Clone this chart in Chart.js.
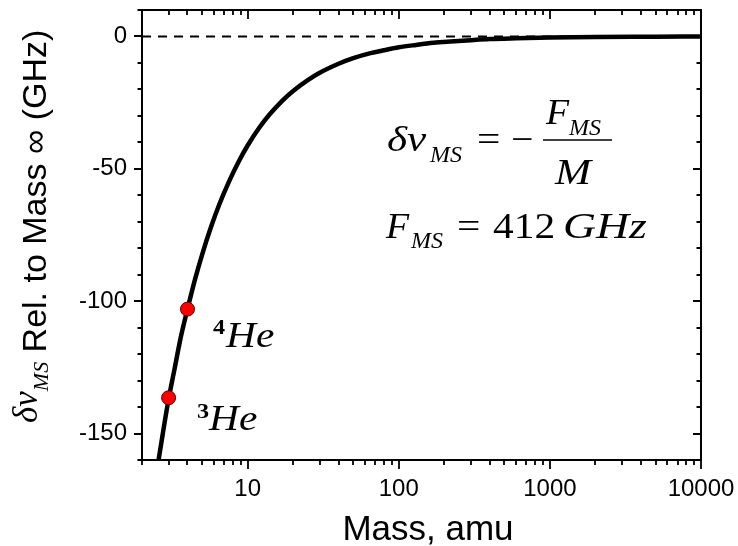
<!DOCTYPE html>
<html>
<head>
<meta charset="utf-8">
<script src="https://cdn.jsdelivr.net/npm/chart.js@4/dist/chart.umd.min.js"></script>
<style>
  html, body { margin: 0; background: #fff; }
  canvas { display: block; }
</style>
</head>
<body>
<canvas id="chart" width="738" height="546"></canvas>
<script>
// courbe : masse (amu) -> décalage (GHz)
const masses = [2.55, 2.8, 3, 3.3, 3.6, 4, 4.5, 5, 5.7, 6.5, 7.5, 8.7, 10, 12, 14, 17, 20, 25, 30, 40, 50, 65, 80, 100, 130, 170, 220, 300, 400, 600, 1000, 2000, 5000, 10000];
const shifts = [-161.5, -147, -137, -125, -114, -103, -91.5, -82.4, -72.3, -63.4, -55, -47.4, -41.2, -34.3, -29.4, -24.2, -20.6, -16.5, -13.7, -10.3, -8.2, -6.3, -5.2, -4.1, -3.2, -2.4, -1.9, -1.4, -1.0, -0.7, -0.4, -0.2, -0.1, 0];

// points 3He / 4He
const heMass = [3, 4];
const heShift = [-136.5, -103];

// ligne pointillée à zéro
const zeroX = [2, 10000];
const zeroY = [0, 0];

// axes
const xMin = 2, xMax = 10000;
const xDecades = [1, 10, 100, 1000];
const xLabels = [10, 100, 1000, 10000];
const yMin = -160, yMax = 10, yStep = 10;
const yLabels = [0, -50, -100, -150];

const SERIF = '"Liberation Serif", "Times New Roman", serif';
const SANS = '"Liberation Sans", Arial, sans-serif';

const xTickVals = [];
xDecades.forEach(d => { for (let k = 1; k <= 9; k++) { const v = d * k; if (v >= xMin) xTickVals.push(v); } });
xTickVals.push(xMax);

function txt(g, s, x, y, font, sx = 1) {
  g.save(); g.font = font; g.translate(x, y); g.scale(sx, 1); g.fillText(s, 0, 0); g.restore();
}

const deco = {
  id: 'deco',
  beforeDraw(c) {
    const g = c.ctx; g.save(); g.fillStyle = '#fff'; g.fillRect(0, 0, c.width, c.height); g.restore();
  },
  afterDraw(c) {
    const g = c.ctx, a = c.chartArea, sx = c.scales.x, sy = c.scales.y;
    g.save();
    g.strokeStyle = '#000'; g.fillStyle = '#000';
    // cadre
    g.lineWidth = 2;
    g.strokeRect(a.left, a.top, a.right - a.left, a.bottom - a.top);
    // graduations : dehors en bas/gauche, dedans en haut/droite
    g.lineWidth = 1.8;
    g.beginPath();
    xTickVals.forEach(v => {
      const p = Math.round(sx.getPixelForValue(v));
      const L = xLabels.includes(v) ? 9 : 5;
      g.moveTo(p, a.bottom); g.lineTo(p, a.bottom + L);
      g.moveTo(p, a.top); g.lineTo(p, a.top + L);
    });
    for (let v = yMin; v <= yMax; v += yStep) {
      const p = Math.round(sy.getPixelForValue(v));
      const L = yLabels.includes(v) ? 8 : 4.5;
      g.moveTo(a.left - L, p); g.lineTo(a.left, p);
      g.moveTo(a.right, p); g.lineTo(a.right - L, p);
    }
    g.stroke();

    // titre axe x
    g.textAlign = 'center'; g.textBaseline = 'alphabetic';
    g.font = `35px ${SANS}`;
    g.fillText('Mass, amu', 428, 540);

    // titre axe y (tourné)
    g.textAlign = 'left';
    g.save();
    g.translate(46, 423); g.rotate(-Math.PI / 2);
    let cx = 0;
    g.font = `italic 35px ${SERIF}`; g.fillText('δν', cx, -9); cx += g.measureText('δν').width;
    g.font = `italic 22px ${SERIF}`; g.fillText('MS', cx, 2); cx += g.measureText('MS').width;
    g.font = `34px ${SANS}`; g.fillText(' Rel. to Mass ∞ (GHz)', cx, 0);
    g.restore();

    // formule
    const k = 1.2;
    const big = `italic 36px ${SERIF}`, sub = `italic 24px ${SERIF}`, rom = `36px ${SERIF}`;
    txt(g, 'δν', 387, 151, big, k);
    txt(g, 'MS', 430, 162, sub, 1);
    txt(g, '=', 477, 151, rom, 1.15);
    txt(g, '−', 511, 151, rom, 1.1);
    g.lineWidth = 1.6;
    g.beginPath(); g.moveTo(543, 140); g.lineTo(612, 140); g.stroke();
    txt(g, 'F', 546, 124, big, 1.05);
    txt(g, 'MS', 569, 135, sub, 1);
    txt(g, 'M', 555, 184, big, k);

    txt(g, 'F', 386, 238, big, 1.05);
    txt(g, 'MS', 411, 248, sub, 1);
    txt(g, '=', 457, 238, rom, 1.15);
    txt(g, '412', 493, 238, rom, 1.15);
    txt(g, 'GHz', 563, 238, big, 1.27);

    // étiquettes des isotopes
    txt(g, '4', 213, 334, `bold 22px ${SERIF}`, 1.1);
    txt(g, 'He', 226, 347, big, 1.15);
    txt(g, '3', 197, 418, `bold 22px ${SERIF}`, 1.1);
    txt(g, 'He', 209, 430, big, 1.15);
    g.restore();
  }
};

new Chart(document.getElementById('chart'), {
  type: 'line',
  data: {
    datasets: [
      {
        data: heMass.map((m, i) => ({ x: m, y: heShift[i] })),
        showLine: false, pointRadius: 7, pointHoverRadius: 7,
        pointBackgroundColor: '#ff0000', pointBorderColor: '#5a0000', pointBorderWidth: 1,
        clip: false
      },
      {
        data: masses.map((m, i) => ({ x: m, y: shifts[i] })),
        borderColor: '#000', borderWidth: 4.5, pointRadius: 0,
        cubicInterpolationMode: 'monotone', clip: 0
      },
      {
        data: zeroX.map((m, i) => ({ x: m, y: zeroY[i] })),
        borderColor: '#000', borderWidth: 2, borderDash: [9, 7], pointRadius: 0, clip: 0
      }
    ]
  },
  options: {
    responsive: false, animation: false, events: [],
    layout: { padding: { left: 0, right: 37, top: 10, bottom: 0 } },
    plugins: { legend: { display: false }, tooltip: { enabled: false } },
    scales: {
      x: {
        type: 'logarithmic', min: xMin, max: xMax,
        afterBuildTicks: s => { s.ticks = xTickVals.map(v => ({ value: v })); },
        afterFit: s => { s.height = 86; s.paddingLeft = 0; s.paddingRight = 0; },
        grid: { display: false, drawTicks: false }, border: { display: false },
        ticks: {
          autoSkip: false, maxRotation: 0, padding: 15, color: '#000',
          font: { family: SANS, size: 24 },
          callback: v => xLabels.includes(v) ? String(v) : ''
        }
      },
      y: {
        type: 'linear', min: yMin, max: yMax,
        afterFit: s => { s.width = 142; s.paddingTop = 0; s.paddingBottom = 0; },
        grid: { display: false, drawTicks: false }, border: { display: false },
        ticks: {
          stepSize: yStep, autoSkip: false, padding: 15, color: '#000',
          font: { family: SANS, size: 24 },
          callback: v => yLabels.includes(v) ? String(v) : ''
        }
      }
    }
  },
  plugins: [deco]
});
</script>
</body>
</html>
